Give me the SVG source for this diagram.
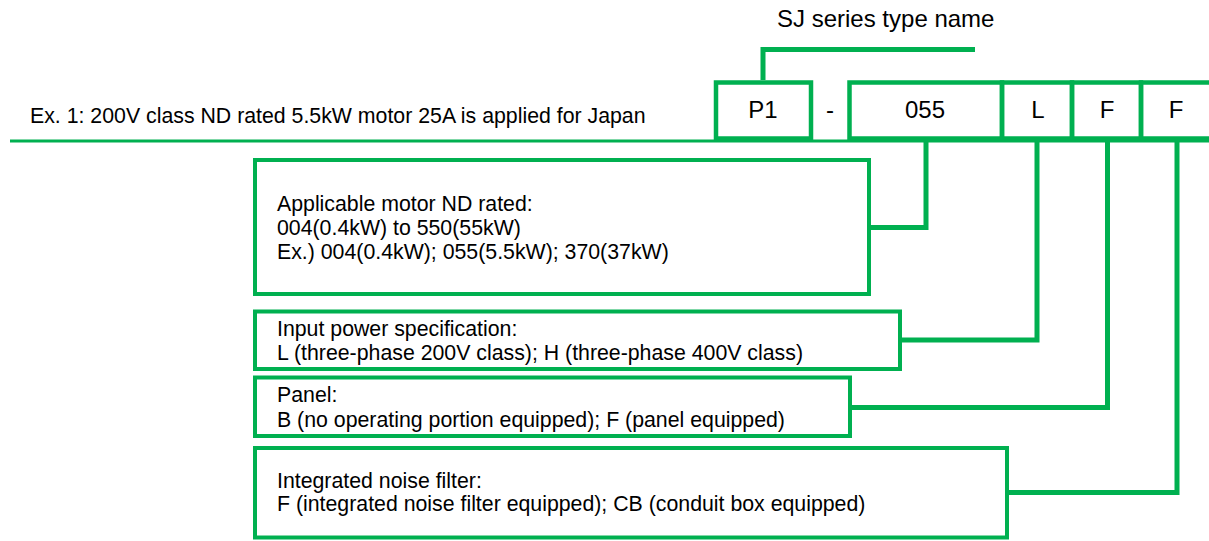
<svg xmlns="http://www.w3.org/2000/svg" width="1209" height="541" viewBox="0 0 1209 541">
<style>
text{font-family:"Liberation Sans",Arial,sans-serif;fill:#000}
.t{font-size:21.3px}
.h{font-size:24px;text-anchor:middle}
.box{fill:none;stroke:#00B050;stroke-width:4}
.hbox{fill:none;stroke:#00B050;stroke-width:4.5}
.c{fill:none;stroke:#00B050;stroke-width:5;stroke-linejoin:miter}
.base{fill:none;stroke:#00B050;stroke-width:3}
</style>
<rect width="1209" height="541" fill="#fff"/>
<g id="title">
<text x="777" y="27" style="font-size:24px">SJ series type name</text>
</g>
<g id="example">
<text class="t" x="30" y="123">Ex. 1: 200V class ND rated 5.5kW motor 25A is applied for Japan</text>
</g>
<g id="connectors">
<line class="base" x1="10" y1="141" x2="1209" y2="141"/>
<polyline class="c" points="763,80 763,49.5 975,49.5"/>
<polyline class="c" points="869,227.5 926,227.5 926,141"/>
<polyline class="c" points="900,340 1037,340 1037,141"/>
<polyline class="c" points="850,407.5 1107.5,407.5 1107.5,141"/>
<polyline class="c" points="1007,492.5 1177,492.5 1177,141"/>
</g>
<g id="code-P1">
<rect class="hbox" x="716" y="82.5" width="95" height="56"/>
<text class="h" x="763" y="118">P1</text>
</g>
<g id="dash">
<text class="h" x="830" y="118">-</text>
</g>
<g id="code-055">
<rect class="hbox" x="849.5" y="82.5" width="152.5" height="56"/>
<text class="h" x="925" y="118">055</text>
</g>
<g id="code-L">
<rect class="hbox" x="1002" y="82.5" width="70" height="56"/>
<text class="h" x="1038" y="118">L</text>
</g>
<g id="code-F1">
<rect class="hbox" x="1072" y="82.5" width="69" height="56"/>
<text class="h" x="1107" y="118">F</text>
</g>
<g id="code-F2">
<rect class="hbox" x="1141" y="82.5" width="80" height="56"/>
<text class="h" x="1176" y="118">F</text>
</g>
<g id="motor">
<rect class="box" x="255" y="160" width="614" height="134"/>
<text class="t" x="277" y="211">Applicable motor ND rated:</text>
<text class="t" x="277" y="235">004(0.4kW) to 550(55kW)</text>
<text class="t" x="277" y="259">Ex.) 004(0.4kW); 055(5.5kW); 370(37kW)</text>
</g>
<g id="input-power">
<rect class="box" x="255" y="311.5" width="645" height="57.5"/>
<text class="t" x="277" y="336">Input power specification:</text>
<text class="t" x="277" y="360">L (three-phase 200V class); H (three-phase 400V class)</text>
</g>
<g id="panel">
<rect class="box" x="255" y="377.5" width="595" height="58.5"/>
<text class="t" x="277" y="402">Panel:</text>
<text class="t" x="277" y="427">B (no operating portion equipped); F (panel equipped)</text>
</g>
<g id="noise-filter">
<rect class="box" x="255" y="448" width="752" height="89.5"/>
<text class="t" x="277" y="488">Integrated noise filter:</text>
<text class="t" x="277" y="511">F (integrated noise filter equipped); CB (conduit box equipped)</text>
</g>
</svg>
